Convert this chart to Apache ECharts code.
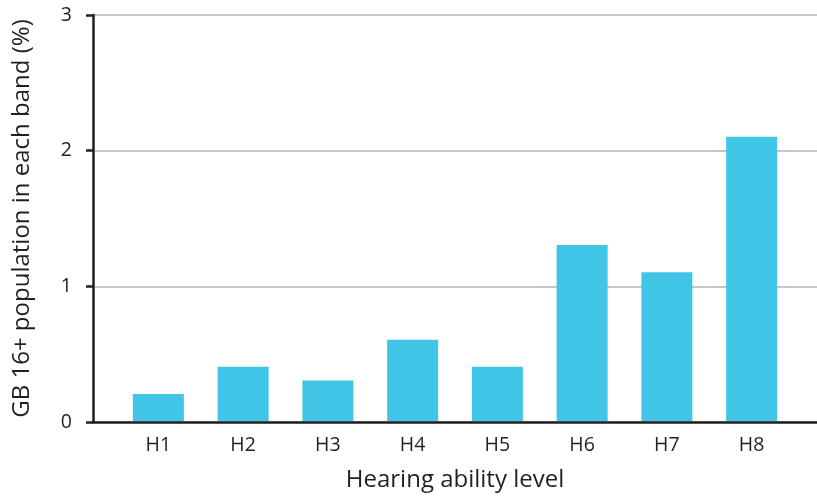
<!DOCTYPE html>
<html>
<head>
<meta charset="utf-8">
<script src="https://cdn.jsdelivr.net/npm/echarts@6/dist/echarts.min.js"></script>
<style>html,body{margin:0;padding:0;background:#fff}#c{width:817px;height:497px}</style>
</head>
<body>
<div id="c"></div>
<script>
const categories = ['H1','H2','H3','H4','H5','H6','H7','H8'];
const values = [0.2, 0.4, 0.3, 0.6, 0.4, 1.3, 1.1, 2.1];
const yTicks = [0, 1, 2, 3];

const FONT = '"Open Sans", "Noto Sans", sans-serif';
const INK = '#231f20';
const chart = echarts.init(document.getElementById('c'), null, {renderer: 'canvas'});
chart.setOption({
  animation: false,
  grid: [
    {left: 93, right: 0, top: 15, bottom: 75},
    {left: 116, right: 23, top: 15, bottom: 75}
  ],
  xAxis: [
    {gridIndex: 0, type: 'value', min: 0, max: 1,
     axisLine: {show: true, lineStyle: {color: INK, width: 2.5}},
     axisTick: {show: false}, axisLabel: {show: false}, splitLine: {show: false}},
    {gridIndex: 1, type: 'category', data: categories,
     name: 'Hearing ability level', nameLocation: 'middle', nameGap: 47,
     nameTextStyle: {fontFamily: FONT, fontSize: 24, color: INK},
     axisLine: {show: false}, axisTick: {show: false},
     axisLabel: {fontFamily: FONT, fontSize: 19.5, color: INK, margin: 14}}
  ],
  yAxis: [
    {gridIndex: 0, type: 'value', min: yTicks[0], max: yTicks[yTicks.length-1], interval: 1,
     name: 'GB 16+ population in each band (%)', nameLocation: 'middle', nameGap: 59,
     nameTextStyle: {fontFamily: FONT, fontSize: 24, color: INK},
     axisLine: {show: true, lineStyle: {color: INK, width: 2.5}},
     axisTick: {show: true, length: 7, lineStyle: {color: INK, width: 2.5}},
     axisLabel: {fontFamily: FONT, fontSize: 19.5, color: INK, margin: 21},
     splitLine: {show: true, lineStyle: {color: '#b3b3b3', width: 1.5}}},
    {gridIndex: 1, type: 'value', min: yTicks[0], max: yTicks[yTicks.length-1], interval: 1,
     axisLine: {show: false}, axisTick: {show: false}, axisLabel: {show: false}, splitLine: {show: false}}
  ],
  series: [{
    type: 'bar', xAxisIndex: 1, yAxisIndex: 1, data: values,
    barWidth: 51, itemStyle: {color: '#40c5e6'}
  }]
});
</script>
</body>
</html>
